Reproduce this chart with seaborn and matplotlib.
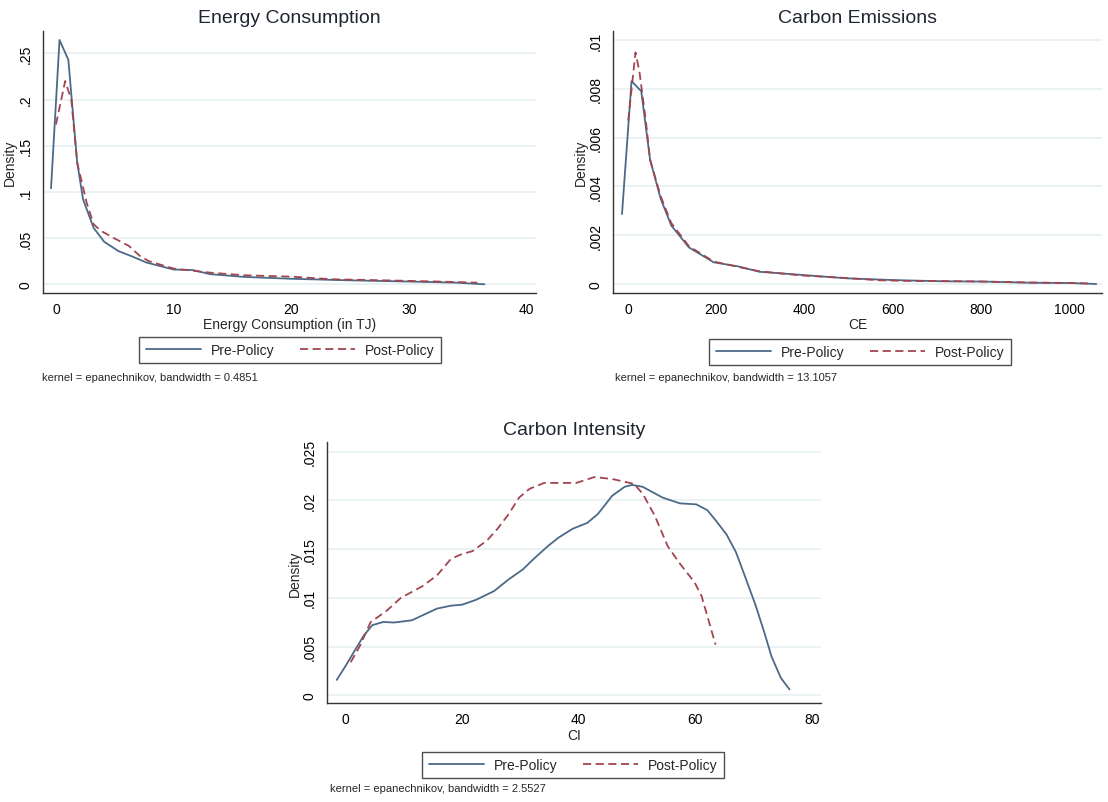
import numpy as np
import pandas as pd
import matplotlib
matplotlib.use("Agg")
import matplotlib.pyplot as plt
import seaborn as sns

# ---- data (kdensity curves) ----
ec_pre_x = [-0.42, 0.3, 1.05, 1.8, 2.3, 3.2, 4.1, 5.3, 6.5, 7.7, 10, 11.6, 13.1, 16, 20, 25, 30, 34, 36.4]
ec_pre_y = [0.104, 0.2645, 0.243, 0.132, 0.092, 0.061, 0.046, 0.036, 0.030, 0.0235, 0.016, 0.0155, 0.011,
            0.008, 0.006, 0.0043, 0.003, 0.0018, 0.0]
ec_post_x = [0.0, 0.78, 1.3, 1.8, 2.6, 3.2, 3.8, 5.0, 6.2, 7.1, 7.9, 10, 13.1, 16, 20, 23.6, 28, 32.5, 35.8]
ec_post_y = [0.173, 0.220, 0.200, 0.132, 0.0885, 0.065, 0.058, 0.0495, 0.0415, 0.031, 0.025, 0.017, 0.0126,
             0.0098, 0.0083, 0.0054, 0.0043, 0.003, 0.0018]

ce_pre_x = [-13.6, 8, 30, 50, 74, 98, 138, 194, 250, 298, 394, 498, 602, 714, 802, 914, 1001, 1061]
ce_pre_y = [0.00287, 0.00832, 0.00791, 0.0051, 0.0035, 0.0024, 0.0015, 0.00089, 0.00072, 0.0005, 0.00037,
            0.00023, 0.00016, 0.00011, 0.0001, 0.00005, 0.00004, 0.0]
ce_post_x = [0.5, 17, 26, 41, 50, 74, 98, 138, 194, 250, 298, 394, 498, 570, 650, 714, 802, 914, 1001, 1050]
ce_post_y = [0.0067, 0.0095, 0.0087, 0.0066, 0.0051, 0.0036, 0.0025, 0.00155, 0.00092, 0.00070, 0.00052,
             0.00035, 0.00024, 0.00015, 0.00012, 0.00012, 0.0001, 0.00006, 0.00004, 0.00002]

ci_pre_x = [-1.5, 0, 3.1, 4.6, 6.5, 8.3, 11.4, 15.7, 18.1, 20, 22.4, 25.5, 28, 30.4, 32.3, 34.7, 36.6, 39,
            41.5, 43.3, 45.8, 47.9, 49.2, 51, 54.4, 57.4, 60.2, 62.1, 63.6, 65.4, 67, 68.5, 70.4, 71.9,
            73.1, 74.7, 76.2]
ci_pre_y = [0.00158, 0.003, 0.0061, 0.0072, 0.00753, 0.00747, 0.0077, 0.0089, 0.0092, 0.0093, 0.0098,
            0.0107, 0.0119, 0.0129, 0.014, 0.0153, 0.0162, 0.0171, 0.0177, 0.0186, 0.0205, 0.0214, 0.0216,
            0.0214, 0.0203, 0.0197, 0.0196, 0.019, 0.0179, 0.0165, 0.0147, 0.0123, 0.0092, 0.0064, 0.004,
            0.0018, 0.0006]
ci_post_x = [0.9, 2.5, 4.3, 7.1, 9.5, 13.2, 15.7, 18.1, 20, 21.8, 24.3, 26.1, 28, 29.8, 31.6, 34.1, 37.2,
             39.6, 42.7, 45.8, 49.5, 51, 53.1, 55.3, 57.4, 59.9, 61.1, 62.4, 63.5]
ci_post_y = [0.0034, 0.0051, 0.0075, 0.0087, 0.01, 0.0112, 0.0123, 0.014, 0.0145, 0.0148, 0.0159, 0.0171,
             0.0186, 0.0203, 0.0212, 0.0218, 0.0218, 0.0218, 0.0224, 0.0222, 0.0217, 0.0207, 0.0184, 0.0153,
             0.0135, 0.0116, 0.0102, 0.0075, 0.0052]

series_labels = ["Pre-Policy", "Post-Policy"]
titles = ["Energy Consumption", "Carbon Emissions", "Carbon Intensity"]
xlabels = ["Energy Consumption (in TJ)", "CE", "CI"]
notes = ["kernel = epanechnikov, bandwidth = 0.4851",
         "kernel = epanechnikov, bandwidth = 13.1057",
         "kernel = epanechnikov, bandwidth = 2.5527"]
xticks = [[0, 10, 20, 30, 40], [0, 200, 400, 600, 800, 1000], [0, 20, 40, 60, 80]]
yticks = [[0, .05, .1, .15, .2, .25], [0, .002, .004, .006, .008, .01], [0, .005, .01, .015, .02, .025]]

# ---- style ----
sns.set_style("white")
plt.rcParams["font.family"] = ["Liberation Sans", "DejaVu Sans"]

W, H = 1108, 803
fig = plt.figure(figsize=(W / 100, H / 100), dpi=100)

pre_col = "#4b6a88"
post_col = "#a3454e"
grid_col = "#e8f0f2"

# pixel boxes: left, right, top, bottom
boxes = [(42.8, 536, 31.7, 294), (613.3, 1102, 31.7, 294), (327.3, 821, 443, 704.3)]
xlims = [(-1.12, 40.78), (-33.3, 1074), (-3.12, 81.6)]
ylims = [(-0.0094, 0.2745), (-0.00037, 0.01039), (-0.00082, 0.026)]
legend_centers = [(290, 351), (860, 353), (573, 766)]
note_pos = [(42, 378), (615, 378), (330, 789)]

data = [
    (ec_pre_x, ec_pre_y, ec_post_x, ec_post_y),
    (ce_pre_x, ce_pre_y, ce_post_x, ce_post_y),
    (ci_pre_x, ci_pre_y, ci_post_x, ci_post_y),
]


def stata_fmt(v):
    s = format(round(v, 6), "g")
    if s.startswith("0."):
        s = s[1:]
    return s


for i in range(3):
    l, r, t, b = boxes[i]
    ax = fig.add_axes([l / W, 1 - b / H, (r - l) / W, (b - t) / H])
    px, py, qx, qy = data[i]
    df_pre = pd.DataFrame({"x": px, "density": py})
    df_post = pd.DataFrame({"x": qx, "density": qy})

    for y in yticks[i]:
        ax.axhline(y, color=grid_col, lw=1.2, zorder=0)

    sns.lineplot(data=df_pre, x="x", y="density", ax=ax, color=pre_col, lw=1.3,
                 estimator=None, sort=False, label=series_labels[0], legend=False)
    sns.lineplot(data=df_post, x="x", y="density", ax=ax, color=post_col, lw=1.3,
                 linestyle=(0, (4.5, 2.5)), estimator=None, sort=False,
                 label=series_labels[1], legend=False)

    ax.set_xlim(*xlims[i])
    ax.set_ylim(*ylims[i])
    ax.set_xticks(xticks[i])
    ax.set_yticks(yticks[i])
    ax.set_yticklabels([stata_fmt(v) for v in yticks[i]], rotation=90, va="center")
    ax.tick_params(axis="both", direction="out", length=4.5, width=0.9, color="#333333",
                   labelsize=10, pad=2, labelcolor="black")
    ax.tick_params(axis="y", pad=3)
    for s in ["top", "right"]:
        ax.spines[s].set_visible(False)
    for s in ["left", "bottom"]:
        ax.spines[s].set_color("#333333")
        ax.spines[s].set_linewidth(1.0)

    ax.set_xlabel(xlabels[i], fontsize=10, labelpad=1)
    ax.set_ylabel("Density", fontsize=10, labelpad=1)
    ax.set_title(titles[i], fontsize=14, color="#1f2630", pad=6)

    handles = ax.get_lines()[-2:]
    cx, cy = legend_centers[i]
    leg = ax.legend(handles, series_labels, loc="center", bbox_to_anchor=(cx / W, 1 - cy / H),
                    bbox_transform=fig.transFigure, ncol=2, frameon=True, fancybox=False,
                    edgecolor="#222222", fontsize=10, handlelength=4.0, handletextpad=0.7,
                    columnspacing=1.8, borderpad=0.45)
    leg.get_frame().set_linewidth(1.0)

    nx, ny = note_pos[i]
    fig.text(nx / W, 1 - ny / H, notes[i], fontsize=8, va="center", ha="left")

fig.savefig("out.png", dpi=100, facecolor="white")
